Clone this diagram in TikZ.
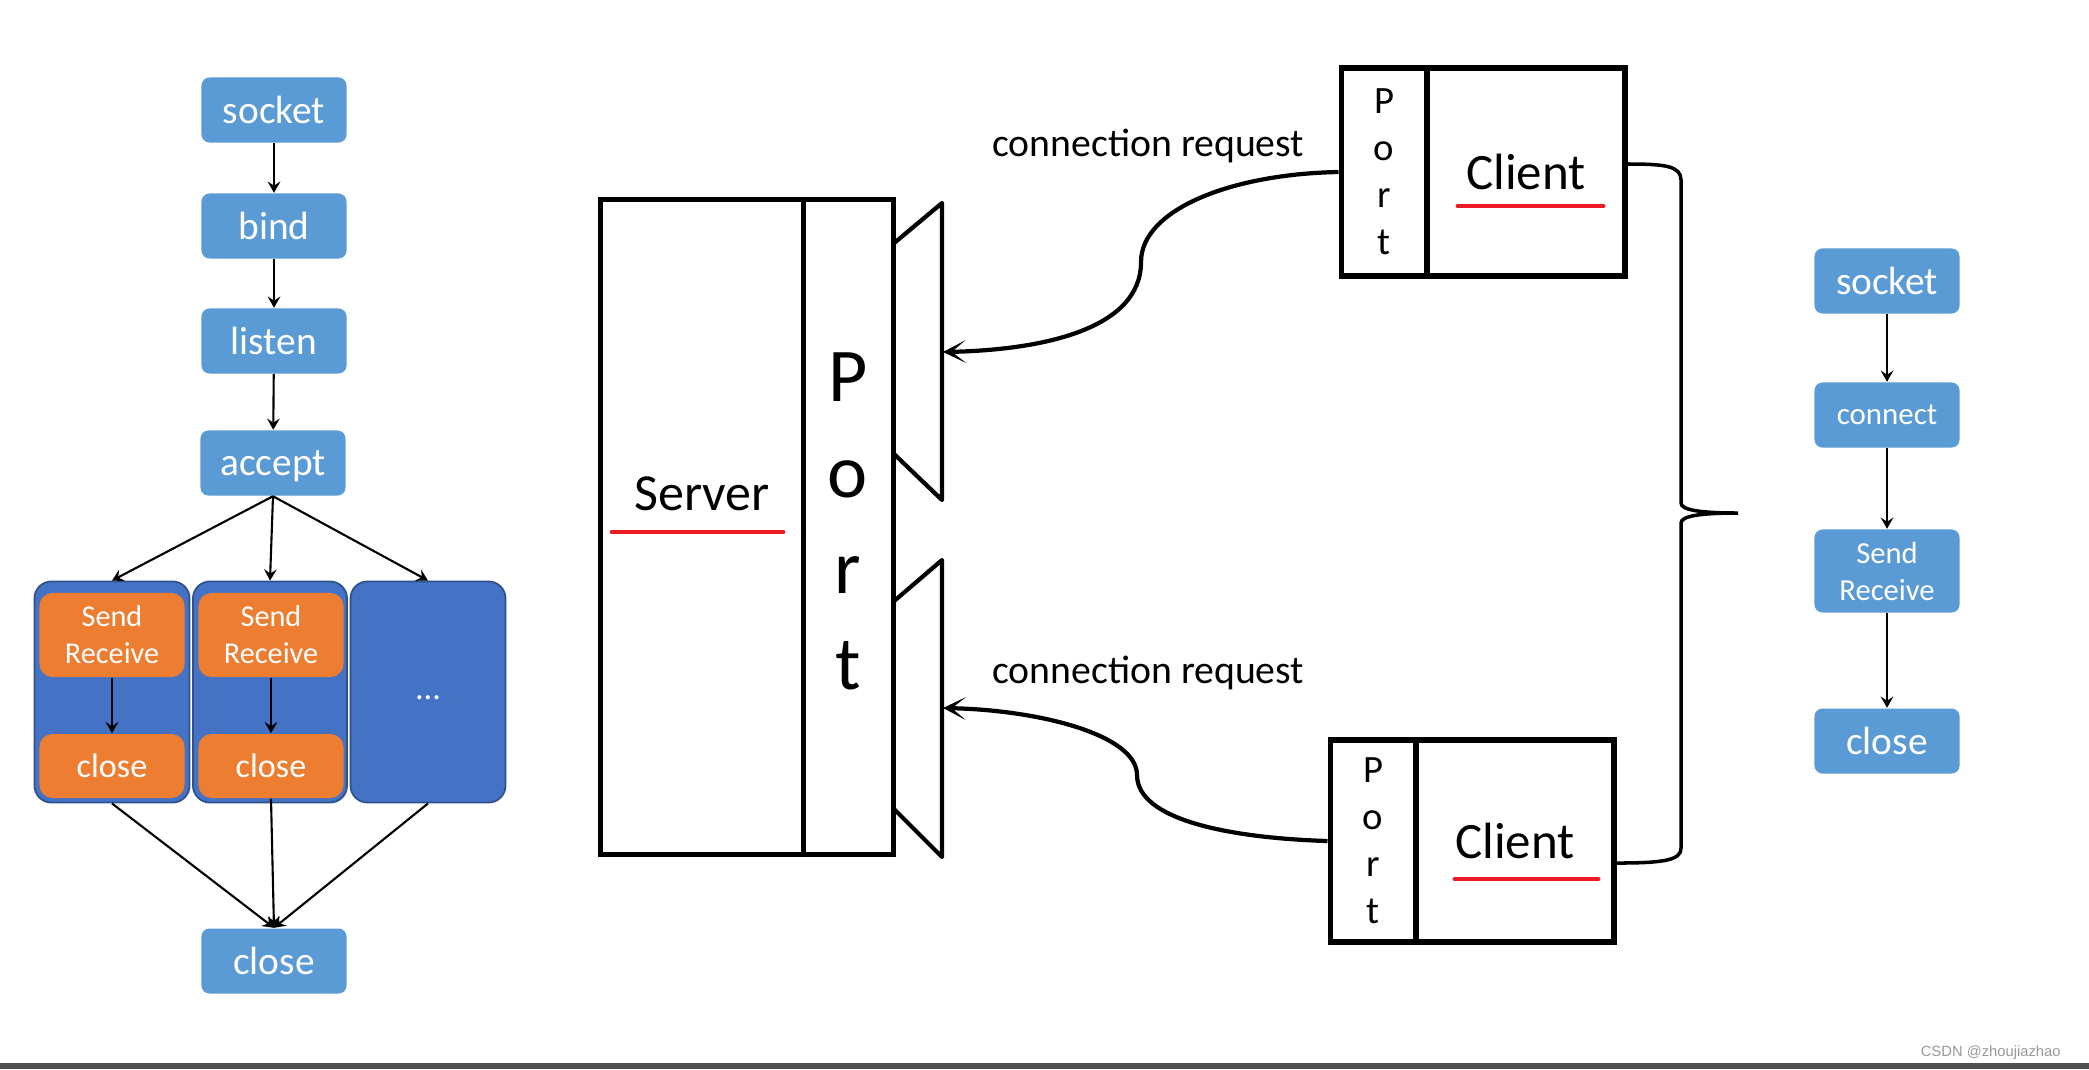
\documentclass[tikz,border=0pt]{standalone}
\usepackage{fontspec}
\setmainfont{Carlito}
\newfontfamily\markfont{Liberation Sans}
\usetikzlibrary{arrows.meta,
                calc,
                positioning}
\definecolor{box_c}{HTML}{5B9BD5}
\definecolor{cont_c}{HTML}{4472C4}
\definecolor{cont_edge}{HTML}{2F528F}
\definecolor{job_c}{HTML}{ED7D31}
\definecolor{mark_c}{HTML}{ED1C24}
\definecolor{wm_c}{HTML}{999999}
\definecolor{bar_c}{HTML}{505050}

\begin{document}
\begin{tikzpicture}[
			x=0.01cm, y=-0.01cm,
			flow/.style = {fill=box_c, text=white, rounded corners=0.08cm, minimum width=1.45cm, minimum height=0.65cm, inner sep=0pt, font=\fontsize{11.2}{13}\selectfont},
			thread/.style = {fill=cont_c, draw=cont_edge, line width=0.5pt, rounded corners=0.17cm, minimum width=1.55cm, minimum height=2.21cm, inner sep=0pt},
			job/.style = {fill=job_c, text=white, rounded corners=0.13cm, minimum width=1.45cm, inner sep=0pt, align=center},
			flowarr/.style = {-{Stealth[length=3.2pt,width=3.6pt,inset=1.2pt]}, line width=0.6pt},
			srvbox/.style = {draw, line width=1.4pt, minimum height=6.54cm, inner sep=0pt},
			cframe/.style = {draw, line width=1.7pt, inner sep=0pt},
			req/.style = {-{Stealth[length=6.5pt,width=6.5pt,inset=4pt]}, line width=1.2pt},
			uline/.style = {mark_c, line width=1.4pt, line cap=round},
			]
			\useasboundingbox (0,0) rectangle (2089,1069);
			\fill[white] (0,0) rectangle (2089,1069);
			% server flow
			\node[flow] (socketL) at (274,110) {socket};
			\node[flow] (bindL) at (274,226) {bind};
			\node[flow] (listenL) at (274,341) {listen};
			\node[flow, text depth=0pt] (acceptL) at (273,463) {accept};
			\node[thread] (contA) at (112,692) {};
			\node[thread, minimum width=1.54cm] (contB) at (270,692) {};
			\node[thread] (contC) at (428,692) {};
			\node[text=white, font=\fontsize{9.7}{11}\selectfont] (dotsC) at (428,698) {...};
			\node[job, minimum height=0.84cm, font=\fontsize{8.6}{10.5}\selectfont] (sendA) at (112,635) {Send\\Receive};
			\node[job, minimum height=0.64cm, font=\fontsize{9.7}{11}\selectfont] (closeA) at (112,766) {close};
			\node[job, minimum height=0.84cm, font=\fontsize{8.6}{10.5}\selectfont] (sendB) at (271,635) {Send\\Receive};
			\node[job, minimum height=0.64cm, font=\fontsize{9.7}{11}\selectfont] (closeB) at (271,766) {close};
			\node[flow] (closeL) at (274,961) {close};
			\draw[flowarr] (socketL) -- (bindL);
			\draw[flowarr] (bindL) -- (listenL);
			\draw[flowarr] (listenL) -- (acceptL);
			\foreach \t in {contA, contB, contC}
				\draw[flowarr] (acceptL.south) -- (\t.north);
			\draw[flowarr] (sendA) -- (closeA);
			\draw[flowarr] (sendB) -- (closeB);
			\foreach \t in {contA, closeB, contC}
				\draw[flowarr] (\t.south) -- (closeL.north);
			% server
			\node[srvbox, minimum width=2.02cm] (server) at (702,527) {};
			\node[srvbox, minimum width=0.90cm] (bigport) at (848,527) {};
			\node[font=\fontsize{14.8}{17}\selectfont, anchor=base] (srvname) at (702,510) {Server};
			\draw[uline] (612,532) -- (783,532);
			\foreach \c [count=\i from 0] in {P,o,r,t}
				\node[font=\fontsize{21.6}{26}\selectfont, anchor=base] (bp\i) at (848,{401+96*\i}) {\c};
			\draw[line width=1.2pt, line join=round] (893,244) -- (942,203) -- (942,500) -- (893,453);
			\draw[line width=1.2pt, line join=round] (893,602) -- (942,560) -- (942,857) -- (893,808);
			\coordinate (gateA) at (943,352);
			\coordinate (gateB) at (943,708);
			% clients
			\node[cframe, minimum width=0.85cm, minimum height=2.07cm] (cportA) at (1384,172) {};
			\node[cframe, minimum width=1.98cm, minimum height=2.07cm, font=\fontsize{14.5}{17}\selectfont] (clientA) at (1526,172) {Client};
			\draw[uline] (1458,206) -- (1603,206);
			\foreach \c [count=\i from 0] in {P,o,r,t}
				\node[font=\fontsize{11}{13}\selectfont, anchor=base] (pa\i) at (1384,{113+47*\i}) {\c};
			\node[cframe, minimum width=0.85cm, minimum height=2.02cm] (cportB) at (1373,841) {};
			\node[cframe, minimum width=1.98cm, minimum height=2.02cm, font=\fontsize{14.5}{17}\selectfont] (clientB) at (1515,841) {Client};
			\draw[uline] (1455,879) -- (1598,879);
			\foreach \c [count=\i from 0] in {P,o,r,t}
				\node[font=\fontsize{11}{13}\selectfont, anchor=base] (pb\i) at (1373,{782+47*\i}) {\c};
			\node[font=\fontsize{11.3}{13}\selectfont, anchor=base west] (reqA) at (980,156) {connection request};
			\node[font=\fontsize{11.3}{13}\selectfont, anchor=base west] (reqB) at (980,683) {connection request};
			\draw[req] (cportA.west) .. controls (1230,174) and (1141,210) .. (1141,262)
				.. controls (1141,330) and (1040,350) .. (gateA);
			\draw[req] (cportB.west) .. controls (1230,838) and (1137,820) .. (1137,775)
				.. controls (1137,735) and (1040,710) .. (gateB);
			% brace
			\coordinate (tip) at (1738,513);
			\draw[line width=1pt] ([yshift=0.08cm]clientA.east) .. controls (1665,164) and (1681,166) .. (1681,180)
				-- (1681,503) .. controls (1681,510) and (1700,513) .. (tip)
				.. controls (1700,513) and (1681,516) .. (1681,523)
				-- (1681,848) .. controls (1681,860) and (1665,863) .. ([yshift=-0.22cm]clientB.east);
			% client flow
			\node[flow] (socketR) at (1887,281) {socket};
			\node[flow, font=\fontsize{8.8}{10}\selectfont] (connectR) at (1887,415) {connect};
			\node[flow, minimum height=0.83cm, align=center, font=\fontsize{8.7}{10.5}\selectfont] (sendR) at (1887,571) {Send\\Receive};
			\node[flow] (closeR) at (1887,741) {close};
			\draw[flowarr] (socketR) -- (connectR);
			\draw[flowarr] (connectR) -- (sendR);
			\draw[flowarr] (sendR) -- (closeR);
			% footer
			\node[font=\markfont\fontsize{4.2}{5}\selectfont, text=wm_c, anchor=base east] (mark) at (2073,1056) {CSDN @zhoujiazhao};
			\fill[bar_c] (0,1063) rectangle (2089,1069);
		\end{tikzpicture}
\end{document}
